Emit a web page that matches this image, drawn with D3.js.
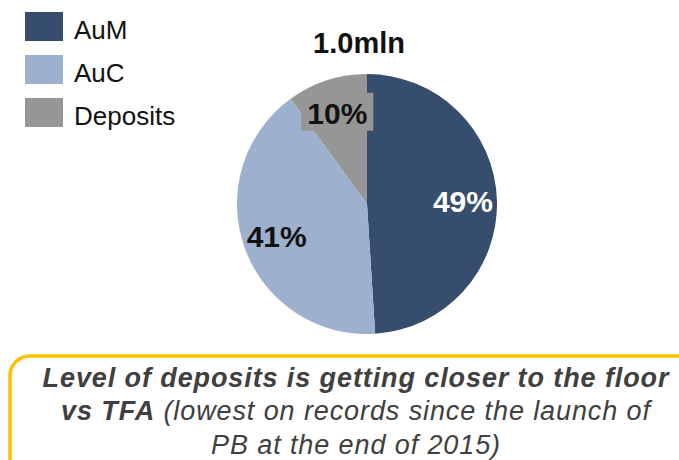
<!DOCTYPE html>
<html><head><meta charset="utf-8">
<script src="https://cdn.jsdelivr.net/npm/d3@7"></script>
<style>html,body{margin:0;padding:0;background:#fff;}svg{display:block;font-family:Arial,"Liberation Sans",sans-serif;}</style>
</head><body>
<svg id="c" width="679" height="460"></svg>
<script>
const categories = ["AuM", "AuC", "Deposits"];
const values = [49, 41, 10];
const colors = ["#374D6E", "#9DB0CE", "#969696"];
const labelColors = ["#ffffff", "#111111", "#111111"];
const totalLabel = "1.0mln";
const noteLines = [
  [{t:"Level of deposits is getting closer to the floor", b:true}],
  [{t:"vs TFA", b:true}, {t:" (lowest on records since the launch of", b:false}],
  [{t:"PB at the end of 2015)", b:false}]
];

const svg = d3.select("#c");
const cx = 367, cy = 204, R = 130;

// pie
const pie = d3.pie().sort(null).value(d => d)(values);
const arc = d3.arc().innerRadius(0).outerRadius(R);
const labelArc = d3.arc().innerRadius(96).outerRadius(96);
const g = svg.append("g").attr("transform", `translate(${cx},${cy})`);
g.selectAll("path").data(pie).join("path")
  .attr("d", arc).attr("fill", (d,i) => colors[i]);

pie.forEach((d,i) => {
  const [x,y] = labelArc.centroid(d);
  if (i === 2) {
    g.append("rect").attr("x", x-36).attr("y", y-20).attr("width", 72).attr("height", 38)
      .attr("fill", colors[i]);
  }
  g.append("text").attr("x", x).attr("y", y).attr("dy", "0.36em")
    .attr("text-anchor", "middle").attr("font-weight", "bold").attr("font-size", 30)
    .attr("fill", labelColors[i]).text(values[i] + "%");
});

svg.append("text").attr("x", 359).attr("y", 53).attr("text-anchor", "middle")
  .attr("font-weight", "bold").attr("font-size", 29).attr("fill", "#111").text(totalLabel);

// legend
const lg = svg.append("g");
categories.forEach((c,i) => {
  const y = 12 + i*43;
  lg.append("rect").attr("x", 25).attr("y", y).attr("width", 38).attr("height", 29).attr("fill", colors[i]);
  lg.append("text").attr("x", 74).attr("y", y + 27).attr("font-size", 26).attr("fill", "#111").text(c);
});

// note box
svg.append("rect").attr("x", 10).attr("y", 356).attr("width", 700).attr("height", 130)
  .attr("rx", 20).attr("fill", "none").attr("stroke", "#FFC000").attr("stroke-width", 3.5);
const baselines = [387, 420, 454];
noteLines.forEach((line, i) => {
  const t = svg.append("text").attr("x", 356).attr("y", baselines[i]).attr("text-anchor", "middle")
    .attr("font-size", 27).attr("font-style", "italic").attr("letter-spacing", 0.9).attr("fill", "#404040");
  line.forEach(s => t.append("tspan").attr("font-weight", s.b ? "bold" : "normal").text(s.t));
});
</script>
</body></html>
